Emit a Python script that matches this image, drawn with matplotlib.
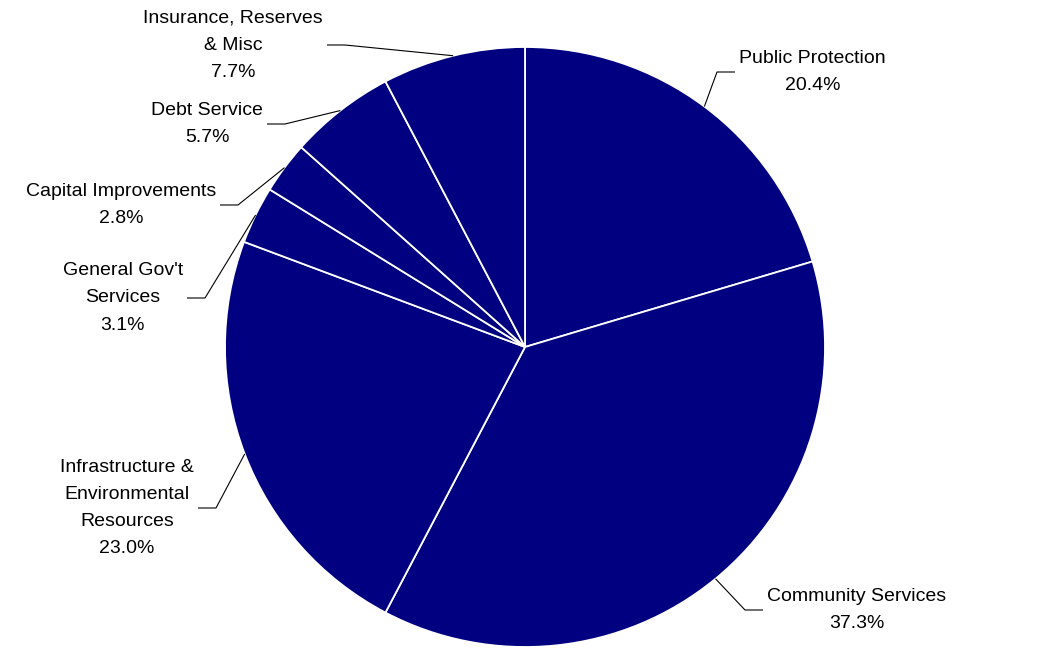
import matplotlib
matplotlib.use("Agg")
import matplotlib.pyplot as plt
import numpy as np

# Budget shares by program area (percent)
categories = [
    "Public Protection",
    "Community Services",
    "Infrastructure &\nEnvironmental\nResources",
    "General Gov't\nServices",
    "Capital Improvements",
    "Debt Service",
    "Insurance, Reserves\n& Misc",
]
shares = [20.4, 37.3, 23.0, 3.1, 2.8, 5.7, 7.7]

NAVY = "#000080"
W, H = 1041, 659
CX, CY, R = 525, 347, 300

# Label layout: elbow point of the leader line and which side the text sits on
label_layout = [
    ((717, 72), +1),
    ((745, 610), +1),
    ((216, 508), -1),
    ((205, 298), -1),
    ((238, 205), -1),
    ((285, 124), -1),
    ((345, 45), -1),
]

plt.rcParams["font.family"] = ["Liberation Sans", "DejaVu Sans"]

fig = plt.figure(figsize=(W / 100, H / 100), dpi=100)
ax = fig.add_axes([0, 0, 1, 1])

# y axis runs downward, so counter-clockwise in data is clockwise on screen
wedges, _ = ax.pie(
    shares,
    center=(CX, CY),
    radius=R,
    startangle=-90,
    counterclock=True,
    colors=[NAVY] * len(shares),
    wedgeprops=dict(edgecolor="white", linewidth=1.3),
)
ax.set_xlim(0, W)
ax.set_ylim(H, 0)
ax.set_aspect("equal")
ax.axis("off")

for wedge, name, val, ((ex, ey), side) in zip(wedges, categories, shares, label_layout):
    mid = np.deg2rad((wedge.theta1 + wedge.theta2) / 2)
    px = CX + R * np.cos(mid)
    py = CY + R * np.sin(mid)
    hx = ex + side * 18
    ax.plot([px, ex, hx], [py, ey, ey], color="black", lw=0.8,
            solid_capstyle="butt", zorder=3)
    ax.text(hx + side * 4, ey, f"{name}\n{val:.1f}%",
            ha="left" if side > 0 else "right", va="center",
            multialignment="center", fontsize=14, linespacing=1.78,
            color="black")

fig.savefig("out.png", dpi=100, facecolor="white")
